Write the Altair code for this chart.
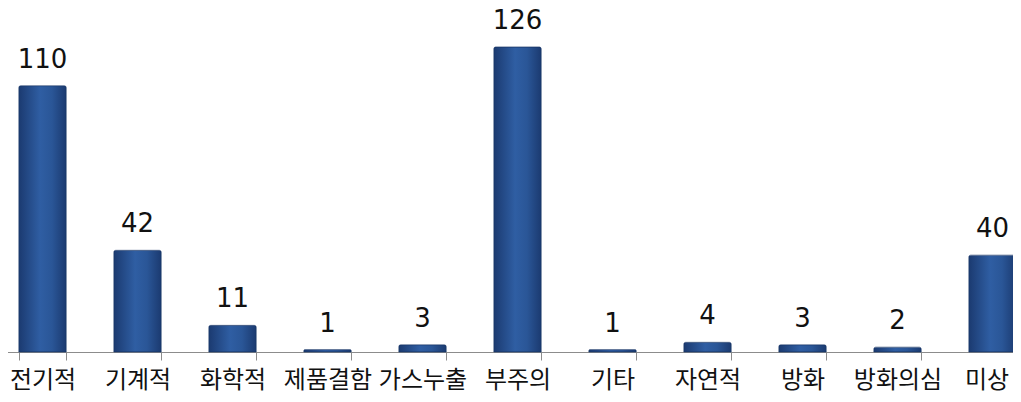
import altair as alt
import pandas as pd

categories = ["전기적", "기계적", "화학적", "제품결함", "가스누출", "부주의", "기타", "자연적", "방화", "방화의심", "미상"]
values = [110, 42, 11, 1, 3, 126, 1, 4, 3, 2, 40]

df = pd.DataFrame({"cat": categories, "val": values})

FONT = "Noto Sans CJK KR"

x = alt.X("cat:N", sort=categories,
          scale=alt.Scale(range=[-13, 1032], paddingInner=0.5, paddingOuter=0.25),
          axis=alt.Axis(title=None, labelAngle=0, tickBand="extent", tickSize=8,
                        tickColor="#8c8c8c", domainColor="#8c8c8c", domainWidth=1.2,
                        labelFont=FONT, labelFontSize=24, labelColor="#111111",
                        labelPadding=8, grid=False,
                        labelOffset=alt.expr("datum.value == '미상' ? -6 : 0")))
y = alt.Y("val:Q", scale=alt.Scale(domain=[0, 139.6], nice=False), axis=None)

grad = alt.Gradient(
    gradient="linear", x1=0, x2=1, y1=0, y2=0,
    stops=[alt.GradientStop(color="#1b3a70", offset=0),
           alt.GradientStop(color="#2f5ea3", offset=0.45),
           alt.GradientStop(color="#2a5697", offset=0.7),
           alt.GradientStop(color="#1b3a70", offset=1)])

bars = alt.Chart(df).mark_bar(color=grad, stroke="#1a3566", strokeWidth=0.6,
                              cornerRadiusTopLeft=2, cornerRadiusTopRight=2).encode(x=x, y=y)

labels = alt.Chart(df).mark_text(font="DejaVu Sans", fontSize=26, color="#111111",
                                 baseline="alphabetic", dy=-18).encode(
    x=x, y=y, text="val:Q")

chart = (bars + labels).properties(
    width=1005, height=338,
    autosize=alt.AutoSizeParams(type="none"),
    padding={"left": 0, "top": 6, "right": 0, "bottom": 42},
).configure_view(stroke=None)

chart.save("out.html", embed_options={"renderer": "svg", "actions": False})
